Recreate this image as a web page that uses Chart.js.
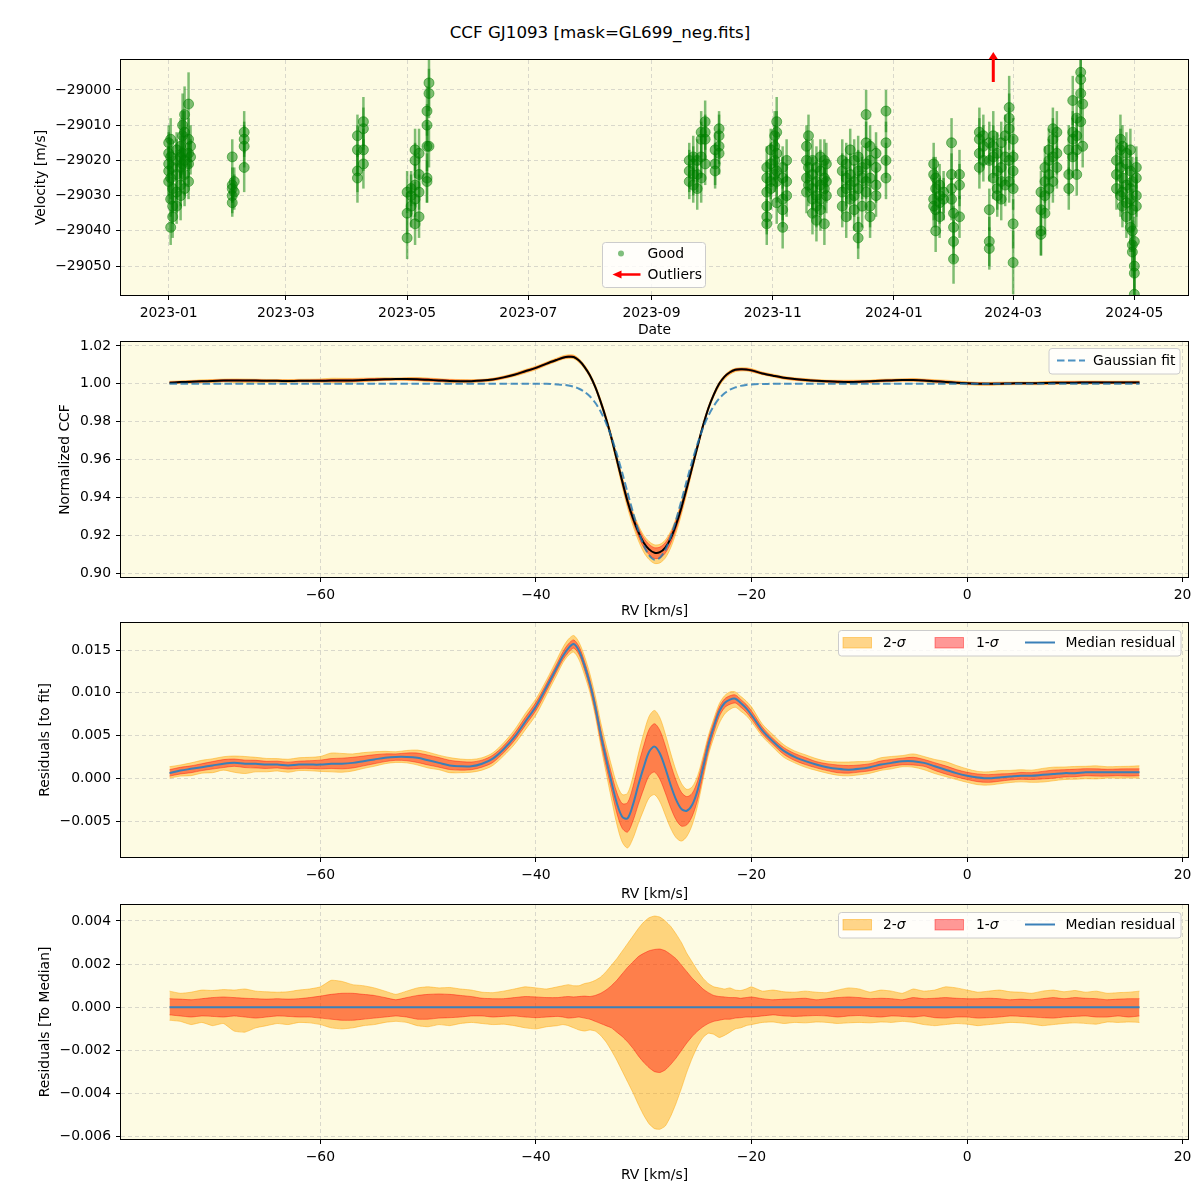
<!DOCTYPE html>
<html>
<head>
<meta charset="utf-8">
<script src="https://cdn.jsdelivr.net/npm/chart.js@4.4.1/dist/chart.umd.min.js"></script>
<style>
  body { margin: 0; background: #fff; width: 1200px; height: 1200px; position: relative; overflow: hidden; font-family: "DejaVu Sans", sans-serif; }
  canvas { position: absolute; left: 0; }
  #title { position: absolute; top: 22px; left: 0; width: 1200px; text-align: center; font-size: 16.7px; color: #000; }
</style>
</head>
<body>
<div id="title">CCF GJ1093 [mask=GL699_neg.fits]</div>
<canvas id="c1" width="1200" height="340" style="top:0px"></canvas>
<canvas id="c2" width="1200" height="290" style="top:330px"></canvas>
<canvas id="c3" width="1200" height="295" style="top:610px"></canvas>
<canvas id="c4" width="1200" height="310" style="top:890px"></canvas>
<script>
// ---- RV time series (top panel) ----
const nights = [
  '2023-01-01','2023-01-02','2023-01-03','2023-01-05','2023-01-07','2023-01-08','2023-01-09','2023-01-11','2023-01-12',
  '2023-02-02','2023-02-03','2023-02-08',
  '2023-04-06','2023-04-09',
  '2023-05-01','2023-05-03','2023-05-05','2023-05-07','2023-05-11','2023-05-12',
  '2023-09-20','2023-09-22','2023-09-24','2023-09-26','2023-09-28','2023-10-03','2023-10-05',
  '2023-10-29','2023-10-31','2023-11-02','2023-11-03','2023-11-06','2023-11-08',
  '2023-11-18','2023-11-19','2023-11-21','2023-11-23','2023-11-25','2023-11-27','2023-11-28',
  '2023-12-06','2023-12-08','2023-12-10','2023-12-12','2023-12-14','2023-12-16','2023-12-18','2023-12-20','2023-12-23','2023-12-28',
  '2024-01-21','2024-01-22','2024-01-24','2024-01-26','2024-01-30','2024-01-31','2024-02-03',
  '2024-02-13','2024-02-15','2024-02-18','2024-02-20','2024-02-22','2024-02-24','2024-02-26','2024-02-28','2024-03-01',
  '2024-03-15','2024-03-17','2024-03-19','2024-03-21','2024-03-23',
  '2024-03-29','2024-03-31','2024-04-02','2024-04-04','2024-04-05',
  '2024-04-22','2024-04-24','2024-04-25','2024-04-27','2024-04-29','2024-04-30','2024-05-01','2024-05-02'
];
const nightRv = [
  [-29015,-29018,-29021,-29023,-29026],[-29014,-29019,-29025,-29031,-29039],[-29022,-29028,-29033,-29036],
  [-29017,-29020,-29024,-29029,-29033],[-29016,-29019,-29022,-29027,-29030],[-29010,-29013,-29018,-29021],
  [-29007,-29012,-29020,-29024,-29028],[-29004,-29014,-29018,-29021,-29026],[-29016,-29019],
  [-29019,-29027,-29028,-29030,-29032],[-29026,-29029],[-29012,-29014,-29016,-29022],
  [-29013,-29017,-29023,-29025],[-29009,-29011,-29017,-29021],
  [-29029,-29035,-29042],[-29028,-29030,-29033],[-29017,-29020,-29027,-29031,-29038],[-29018,-29024,-29029,-29036],
  [-29006,-29010,-29016,-29025,-29026],[-28998,-29001,-29016],
  [-29020,-29023,-29026],[-29019,-29021,-29024,-29027],[-29020,-29024,-29028],[-29012,-29014,-29019,-29025],
  [-29009,-29012,-29014,-29021],[-29017,-29021,-29023],[-29011,-29013,-29016,-29018],
  [-29022,-29025,-29029,-29033,-29036,-29038],[-29017,-29021,-29026,-29028],[-29013,-29016,-29020,-29024],
  [-29009,-29012,-29018,-29023,-29026,-29032],[-29022,-29025,-29031,-29034,-29039],[-29020,-29026,-29030],
  [-29016,-29020,-29025,-29029],[-29013,-29022,-29027],[-29020,-29024,-29028,-29031,-29035],
  [-29022,-29026,-29030,-29033,-29037],[-29019,-29023,-29027,-29031,-29034],[-29020,-29025,-29028,-29038],[-29021,-29026,-29030],
  [-29020,-29023,-29029,-29033],[-29021,-29025,-29028,-29036],[-29017,-29024,-29027,-29031],[-29020,-29026,-29030,-29034],
  [-29019,-29023,-29028,-29039,-29042],[-29022,-29025,-29033],[-29007,-29015,-29021,-29026,-29029],
  [-29016,-29020,-29025,-29033,-29036],[-29018,-29022,-29027,-29030],[-29006,-29015,-29020,-29025],
  [-29021,-29024,-29031,-29033],[-29025,-29028,-29034,-29040],[-29027,-29030,-29032,-29036],[-29029,-29031],
  [-29015,-29024,-29028,-29031],[-29035,-29039,-29043,-29048],[-29024,-29027,-29036],
  [-29012,-29014,-29018,-29022],[-29013,-29016,-29020],[-29015,-29020,-29034,-29043,-29045],[-29013,-29016,-29019,-29025],
  [-29018,-29023,-29028,-29030],[-29015,-29022,-29026,-29031],[-29013,-29019,-29027],[-29005,-29008,-29011,-29020,-29026],
  [-29014,-29019,-29023,-29028,-29038,-29049],
  [-29029,-29034,-29040,-29041],[-29022,-29026,-29030,-29035],[-29017,-29020,-29024,-29028],[-29011,-29014,-29019,-29026],[-29012,-29018,-29022],
  [-29017,-29024,-29028],[-29003,-29012,-29014,-29019],[-29008,-29013,-29017,-29024],[-28995,-28997,-29001,-29009],[-29004,-29016],
  [-29020,-29024,-29028],[-29014,-29017,-29022,-29030],[-29016,-29025,-29029,-29033],[-29018,-29021,-29027,-29032,-29036],
  [-29017,-29023,-29028,-29031,-29039],[-29026,-29034,-29040,-29044,-29046],[-29043,-29050,-29052,-29058],[-29022,-29025,-29030,-29033]
];
const nightErr = [
  [5,6,5,7,6],[6,5,6,5,5],[6,7,5,6],[5,6,7,6,5],[8,6,5,6,7],[9,7,6,5],[8,6,5,6,5],[9,6,5,6,5],[6,5],
  [5,5,4,5,4],[4,5],[6,5,6,7],
  [6,7,6,7],[7,6,6,7],
  [6,6,6],[5,6,6],[6,5,6,5,6],[7,6,5,6],[7,6,7,7,6],[8,7,6],
  [5,6,5],[6,5,6,5],[6,5,6],[6,5,6,7],[6,5,6,6],[5,6,5],[5,6,5,6],
  [6,5,6,6,5,6],[6,6,5,6],[7,6,6,5],[7,6,6,5,6,6],[6,6,6,5,6],[6,5,6],
  [6,6,5,6],[6,5,6],[6,5,6,5,6],[6,6,5,6,6],[5,6,6,5,6],[6,5,6,6],[6,6,5],
  [6,5,6,6],[6,6,5,6],[6,6,5,6],[6,5,6,6],[6,6,5,6,6],[6,6,6],[7,6,6,5,6],[6,6,5,6,6],[6,6,5,6],[6,6,5,6],
  [6,5,6,6],[6,6,5,6],[6,5,6,6],[6,6],[7,6,6,6],[6,6,6,7],[7,6,6],
  [7,6,6,6],[6,6,6],[6,6,6,7,6],[7,6,6,6],[6,6,6,6],[6,6,6,6],[6,6,6],[9,7,6,6,6],[6,6,6,6,7,9],
  [6,6,7,6],[6,6,6,6],[6,6,6,6],[6,6,6,6],[6,6,6],
  [7,6,6],[7,6,6,6],[6,6,6,6],[7,7,6,6],[6,6],
  [6,6,6],[7,6,6,6],[6,6,6,6],[6,6,6,6,6],[6,6,6,6,7],[7,6,6,7,7],[7,7,7,8],[6,6,6,6]
];
const outlierDates = ['2024-02-20'];
const dateTicks = ['2023-01-01','2023-03-01','2023-05-01','2023-07-01','2023-09-01','2023-11-01','2024-01-01','2024-03-01','2024-05-01'];
const velTicks = [-29050, -29040, -29030, -29020, -29010, -29000];

// ---- CCF profile (RV grid in km/s) ----
const rvGrid = [-74,-73,-72,-71,-70,-69,-68,-67,-66,-65,-64,-63,-62,-61,-60,-59,-58,-57,-56,-55,-54,-53,-52,-51,-50,-49,-48,-47,-46,-45,-44,-43,-42,-41,-40,-39,
  -38,-37.5,-37,-36.5,-36,-35.5,-35,-34.5,-34,-33.5,-33,-32.5,-32,-31.5,-31,-30.5,-30,-29.5,-29,-28.5,-28,-27.5,-27,-26.5,-26,-25.5,-25,-24.5,-24,-23.5,-23,-22.5,-22,-21.5,-21,-20.5,-20,
  -19,-18,-17,-16,-15,-14,-13,-12,-11,-10,-9,-8,-7,-6,-5,-4,-3,-2,-1,0,1,2,3,4,5,6,7,8,9,10,11,12,13,14,15,16];
const gaussFit = [1,1,1,1,1,1,1,1,1,1,1,1,1,1,1,1,1,1,1,1,1,1,1,1,1,1,1,1,1,1,1,1,1,1,1,1,
  0.9997,0.9995,0.9991,0.9985,0.9974,0.9958,0.9934,0.9900,0.9854,0.9794,0.9719,0.9630,0.9531,0.9425,0.9321,0.9225,0.9147,0.9094,0.9070,0.9081,0.9122,0.9191,0.9281,0.9383,0.9489,0.9592,0.9685,0.9766,0.9832,0.9883,0.9922,0.9950,0.9969,0.9981,0.9989,0.9994,0.9997,
  0.9999,1,1,1,1,1,1,1,1,1,1,1,1,1,1,1,1,1,1,1,1,1,1,1,1,1,1,1,1,1,1,1,1,1,1,1];
const medianResidual = [0.0006,0.0009,0.0011,0.0013,0.0015,0.0017,0.0018,0.0017,0.0017,0.0016,0.0016,0.0015,0.0016,0.0016,0.0016,0.0017,0.0017,0.0018,0.0020,0.0022,0.0024,0.0025,0.0025,0.0024,0.0021,0.0018,0.0015,0.0014,0.0014,0.0017,0.0023,0.0034,0.0048,0.0066,0.0084,0.0107,
  0.0131,0.0143,0.0152,0.0157,0.0149,0.0132,0.0111,0.0084,0.0052,0.0023,-0.0004,-0.0029,-0.0045,-0.0047,-0.0031,-0.0008,0.0013,0.0031,0.0037,0.0029,0.0012,-0.0008,-0.0025,-0.0036,-0.0038,-0.0031,-0.0014,0.0012,0.0039,0.0060,0.0078,0.0088,0.0092,0.0093,0.0088,0.0082,0.0074,
  0.0056,0.0043,0.0032,0.0025,0.0020,0.0016,0.0013,0.0011,0.0010,0.0011,0.0013,0.0016,0.0018,0.0020,0.0020,0.0018,0.0014,0.0010,0.0006,0.0003,0.0001,0.0000,0.0001,0.0002,0.0003,0.0003,0.0004,0.0005,0.0006,0.0006,0.0007,0.0007,0.0007,0.0007,0.0007,0.0007];
// spread of the individual residuals around the median
const sig2Hi = [0.00075,0.00065,0.00070,0.00080,0.00078,0.00082,0.00080,0.00085,0.00075,0.00072,0.00070,0.00072,0.00080,0.00085,0.00095,0.00125,0.00120,0.00105,0.00100,0.00090,0.00075,0.00060,0.00075,0.00090,0.00095,0.00090,0.00092,0.00085,0.00080,0.00070,0.00068,0.00075,0.00085,0.00095,0.00090,0.00085,
  0.00095,0.00100,0.00105,0.00100,0.00100,0.00110,0.00115,0.00125,0.00140,0.00165,0.00195,0.00225,0.00260,0.00295,0.00330,0.00365,0.00395,0.00415,0.00423,0.00418,0.00400,0.00375,0.00340,0.00300,0.00250,0.00210,0.00170,0.00135,0.00110,0.00095,0.00090,0.00085,0.00090,0.00080,0.00078,0.00085,0.00095,
  0.00075,0.00080,0.00072,0.00070,0.00075,0.00070,0.00068,0.00080,0.00090,0.00085,0.00070,0.00080,0.00075,0.00065,0.00085,0.00075,0.00080,0.00095,0.00090,0.00080,0.00070,0.00075,0.00080,0.00072,0.00070,0.00065,0.00075,0.00080,0.00072,0.00078,0.00070,0.00075,0.00065,0.00068,0.00070,0.00075];
const sig1Hi = [0.00040,0.00038,0.00035,0.00040,0.00045,0.00048,0.00045,0.00042,0.00040,0.00038,0.00040,0.00038,0.00040,0.00045,0.00052,0.00060,0.00065,0.00065,0.00060,0.00055,0.00045,0.00035,0.00045,0.00055,0.00060,0.00062,0.00060,0.00055,0.00050,0.00042,0.00040,0.00040,0.00045,0.00050,0.00048,0.00045,
  0.00045,0.00048,0.00050,0.00048,0.00050,0.00052,0.00050,0.00055,0.00065,0.00080,0.00100,0.00125,0.00155,0.00185,0.00210,0.00235,0.00250,0.00262,0.00268,0.00270,0.00262,0.00245,0.00225,0.00195,0.00165,0.00135,0.00110,0.00085,0.00068,0.00055,0.00050,0.00048,0.00045,0.00045,0.00042,0.00045,0.00048,
  0.00040,0.00035,0.00038,0.00040,0.00042,0.00035,0.00040,0.00045,0.00048,0.00045,0.00040,0.00042,0.00040,0.00035,0.00045,0.00040,0.00042,0.00045,0.00042,0.00040,0.00040,0.00042,0.00040,0.00035,0.00038,0.00035,0.00040,0.00045,0.00040,0.00045,0.00042,0.00040,0.00035,0.00038,0.00040,0.00040];
const sig1Lo = [-0.00035,-0.00040,-0.00045,-0.00040,-0.00042,-0.00045,-0.00040,-0.00045,-0.00050,-0.00045,-0.00040,-0.00042,-0.00045,-0.00045,-0.00050,-0.00055,-0.00060,-0.00060,-0.00055,-0.00050,-0.00045,-0.00040,-0.00045,-0.00055,-0.00055,-0.00050,-0.00048,-0.00045,-0.00040,-0.00040,-0.00045,-0.00042,-0.00040,-0.00045,-0.00048,-0.00045,
  -0.00042,-0.00045,-0.00050,-0.00048,-0.00045,-0.00050,-0.00055,-0.00065,-0.00075,-0.00085,-0.00095,-0.00115,-0.00135,-0.00160,-0.00190,-0.00225,-0.00255,-0.00280,-0.00298,-0.00302,-0.00290,-0.00265,-0.00235,-0.00200,-0.00165,-0.00135,-0.00110,-0.00090,-0.00075,-0.00065,-0.00060,-0.00055,-0.00055,-0.00050,-0.00048,-0.00045,-0.00045,
  -0.00040,-0.00035,-0.00040,-0.00042,-0.00040,-0.00038,-0.00040,-0.00045,-0.00040,-0.00038,-0.00042,-0.00045,-0.00040,-0.00042,-0.00045,-0.00040,-0.00048,-0.00050,-0.00045,-0.00045,-0.00050,-0.00048,-0.00045,-0.00040,-0.00042,-0.00045,-0.00048,-0.00050,-0.00045,-0.00042,-0.00040,-0.00045,-0.00045,-0.00040,-0.00045,-0.00040];
const sig2Lo = [-0.00060,-0.00065,-0.00080,-0.00070,-0.00085,-0.00075,-0.00110,-0.00115,-0.00095,-0.00085,-0.00075,-0.00080,-0.00070,-0.00072,-0.00080,-0.00095,-0.00100,-0.00095,-0.00085,-0.00080,-0.00070,-0.00065,-0.00070,-0.00085,-0.00090,-0.00080,-0.00085,-0.00075,-0.00070,-0.00075,-0.00080,-0.00078,-0.00085,-0.00095,-0.00100,-0.00090,
  -0.00085,-0.00080,-0.00085,-0.00095,-0.00105,-0.00110,-0.00105,-0.00110,-0.00130,-0.00160,-0.00200,-0.00245,-0.00295,-0.00345,-0.00395,-0.00450,-0.00500,-0.00540,-0.00562,-0.00565,-0.00550,-0.00505,-0.00445,-0.00375,-0.00300,-0.00235,-0.00180,-0.00140,-0.00120,-0.00125,-0.00140,-0.00130,-0.00115,-0.00100,-0.00095,-0.00085,-0.00080,
  -0.00070,-0.00068,-0.00075,-0.00070,-0.00072,-0.00068,-0.00070,-0.00075,-0.00072,-0.00070,-0.00072,-0.00068,-0.00070,-0.00065,-0.00070,-0.00080,-0.00085,-0.00080,-0.00075,-0.00078,-0.00085,-0.00080,-0.00075,-0.00070,-0.00072,-0.00078,-0.00085,-0.00080,-0.00075,-0.00072,-0.00075,-0.00078,-0.00068,-0.00070,-0.00068,-0.00070];
const medToMedRv = [-74, 16];
const medToMedVal = [0, 0];
const rvTicks = [-60, -40, -20, 0, 20];
const ccfTicks = [0.90, 0.92, 0.94, 0.96, 0.98, 1.00, 1.02];
const fitResTicks = [-0.005, 0, 0.005, 0.010, 0.015];
const medResTicks = [-0.006, -0.004, -0.002, 0, 0.002, 0.004];

// ---- style ----
const FAM = '"DejaVu Sans", "Liberation Sans", sans-serif';
const FS = 13.9;
const FONT = { family: FAM, size: FS };
const BG = '#fdfbe3';
const GRID = 'rgba(176,176,176,0.6)';
const ORANGE = 'rgba(255,165,0,0.45)';
const RED = 'rgba(255,0,0,0.4)';
const BLUE = '#3a80b8';
const GREEN = 'rgba(0,128,0,0.5)';
const minus = s => String(s).replace('-', '\u2212');
const day = d => Date.parse(d);

const ccf = gaussFit.map((g, i) => g + medianResidual[i]);
const pts = (xs, ys) => xs.map((x, i) => ({ x, y: ys[i] }));
const around = (base, off) => base.map((b, i) => b + off[i]);

function xAxis(min, max, ticks, fmt, title, titleBottom, height) {
  return {
    type: 'linear', min, max,
    afterBuildTicks: s => { s.ticks = ticks.map(v => ({ value: v })); },
    afterFit: s => { s.height = height; s.paddingLeft = 0; s.paddingRight = 0; },
    ticks: { font: FONT, color: '#000', padding: 5, maxRotation: 0, autoSkip: false, callback: fmt },
    grid: { color: GRID, lineWidth: 0.8, tickColor: '#000', tickLength: 5, tickWidth: 1, tickBorderDash: [] },
    border: { display: false, dash: [4, 3] },
    title: { display: true, text: title, color: '#000', font: FONT, padding: { top: 0, bottom: titleBottom } }
  };
}
function yAxis(min, max, ticks, fmt, title, titleTop) {
  return {
    type: 'linear', min, max,
    afterBuildTicks: s => { s.ticks = ticks.map(v => ({ value: v })); },
    afterFit: s => { s.width = 121; s.paddingTop = 0; s.paddingBottom = 0; },
    ticks: { font: FONT, color: '#000', padding: 5, autoSkip: false, callback: fmt },
    grid: { color: GRID, lineWidth: 0.8, tickColor: '#000', tickLength: 5, tickWidth: 1, tickBorderDash: [] },
    border: { display: false, dash: [4, 3] },
    title: { display: true, text: title, color: '#000', font: FONT, padding: { top: titleTop, bottom: 0 } }
  };
}

const areaPlugin = {
  id: 'area',
  beforeDraw(chart) {
    const { ctx, chartArea: a } = chart;
    ctx.save();
    ctx.fillStyle = BG;
    ctx.fillRect(a.left, a.top, a.width, a.height);
    ctx.restore();
  },
  afterDatasetsDraw(chart) {
    const { ctx, chartArea: a } = chart;
    ctx.save();
    ctx.strokeStyle = '#000';
    ctx.lineWidth = 1;
    ctx.strokeRect(Math.round(a.left) - 0.5, Math.round(a.top) - 0.5, Math.round(a.width) + 1, Math.round(a.height) + 1);
    ctx.restore();
  }
};

function legendBox(ctx, x, y, w, h) {
  ctx.save();
  ctx.fillStyle = 'rgba(255,255,255,0.8)';
  ctx.strokeStyle = '#cccccc';
  ctx.lineWidth = 1;
  ctx.beginPath();
  if (ctx.roundRect) ctx.roundRect(x, y, w, h, 3); else ctx.rect(x, y, w, h);
  ctx.fill();
  ctx.stroke();
  ctx.restore();
}
function sigmaText(ctx, prefix, x, y) {
  ctx.font = FS + 'px ' + FAM;
  ctx.fillText(prefix, x, y);
  const w = ctx.measureText(prefix).width;
  ctx.font = 'italic ' + FS + 'px ' + FAM;
  ctx.fillText('\u03c3', x + w, y);
}

// band legend used by the two residual panels
const bandLegend = {
  id: 'bandLegend',
  afterDraw(chart) {
    const { ctx, chartArea: a } = chart;
    const r = a.right, t = a.top;
    legendBox(ctx, r - 349.5, t + 7.5, 342.5, 25.5);
    ctx.save();
    ctx.fillStyle = ORANGE; ctx.fillRect(r - 345, t + 14.5, 28.5, 10.5);
    ctx.strokeStyle = ORANGE; ctx.lineWidth = 1; ctx.strokeRect(r - 345, t + 14.5, 28.5, 10.5);
    ctx.fillStyle = RED; ctx.fillRect(r - 253, t + 14.5, 28.5, 10.5);
    ctx.strokeStyle = RED; ctx.strokeRect(r - 253, t + 14.5, 28.5, 10.5);
    ctx.strokeStyle = BLUE; ctx.lineWidth = 2;
    ctx.beginPath(); ctx.moveTo(r - 163, t + 19.5); ctx.lineTo(r - 133, t + 19.5); ctx.stroke();
    ctx.fillStyle = '#000'; ctx.textBaseline = 'middle'; ctx.textAlign = 'left';
    sigmaText(ctx, '2-', r - 305, t + 20);
    sigmaText(ctx, '1-', r - 212, t + 20);
    ctx.font = FS + 'px ' + FAM;
    ctx.fillText('Median residual', r - 122.5, t + 20);
    ctx.restore();
  }
};

// ---- panel 1: velocities ----
const obsX = [], obsY = [], obsE = [];
nights.forEach((d, i) => nightRv[i].forEach((v, j) => { obsX.push(day(d)); obsY.push(v); obsE.push(nightErr[i][j]); }));

const errorBars = {
  id: 'errorBars',
  beforeDatasetsDraw(chart) {
    const { ctx, chartArea: a, scales: { x, y } } = chart;
    ctx.save();
    ctx.beginPath(); ctx.rect(a.left, a.top, a.width, a.height); ctx.clip();
    ctx.strokeStyle = GREEN; ctx.lineWidth = 2.5;
    obsX.forEach((t, i) => {
      const px = x.getPixelForValue(t);
      ctx.beginPath();
      ctx.moveTo(px, y.getPixelForValue(obsY[i] - obsE[i]));
      ctx.lineTo(px, y.getPixelForValue(obsY[i] + obsE[i]));
      ctx.stroke();
    });
    ctx.restore();
  }
};
const outlierArrows = {
  id: 'outlierArrows',
  afterDatasetsDraw(chart) {
    const { ctx, chartArea: a, scales: { x } } = chart;
    ctx.save();
    ctx.strokeStyle = 'red'; ctx.fillStyle = 'red'; ctx.lineWidth = 3;
    outlierDates.forEach(d => {
      const px = x.getPixelForValue(day(d));
      ctx.beginPath(); ctx.moveTo(px, a.top + 22); ctx.lineTo(px, a.top - 2); ctx.stroke();
      ctx.beginPath(); ctx.moveTo(px - 4.5, a.top - 1); ctx.lineTo(px, a.top - 8); ctx.lineTo(px + 4.5, a.top - 1); ctx.closePath(); ctx.fill();
    });
    ctx.restore();
  }
};
const velLegend = {
  id: 'velLegend',
  afterDraw(chart) {
    const { ctx } = chart;
    legendBox(ctx, 602.5, 242.5, 103, 45);
    ctx.save();
    ctx.fillStyle = GREEN;
    ctx.beginPath(); ctx.arc(621, 253.5, 3, 0, Math.PI * 2); ctx.fill();
    ctx.strokeStyle = 'red'; ctx.fillStyle = 'red'; ctx.lineWidth = 2.5;
    ctx.beginPath(); ctx.moveTo(640.5, 274.5); ctx.lineTo(619, 274.5); ctx.stroke();
    ctx.beginPath(); ctx.moveTo(621.5, 270.5); ctx.lineTo(612.5, 274.5); ctx.lineTo(621.5, 278.5); ctx.closePath(); ctx.fill();
    ctx.fillStyle = '#000'; ctx.font = FS + 'px ' + FAM; ctx.textBaseline = 'middle';
    ctx.fillText('Good', 647.5, 254);
    ctx.fillText('Outliers', 647.5, 275);
    ctx.restore();
  }
};

new Chart(document.getElementById('c1'), {
  type: 'scatter',
  data: { datasets: [{
    data: pts(obsX, obsY), pointRadius: 5, pointBackgroundColor: GREEN, pointBorderColor: GREEN, pointBorderWidth: 1, clip: 0
  }] },
  options: {
    responsive: false, animation: false,
    layout: { padding: { left: 0, right: 12, top: 60, bottom: 0 } },
    plugins: { legend: { display: false }, tooltip: { enabled: false } },
    scales: {
      x: xAxis(day('2022-12-08'), day('2024-05-28'), dateTicks.map(day), v => new Date(v).toISOString().slice(0, 7), 'Date', 1.7, 45),
      y: yAxis(-29058.2, -28991.5, velTicks, v => minus(v), 'Velocity [m/s]', 32.7)
    }
  },
  plugins: [areaPlugin, errorBars, outlierArrows, velLegend]
});

// ---- panel 2: CCF and Gaussian fit ----
const lineDefaults = { pointRadius: 0, tension: 0.3 };
const gaussLegend = {
  id: 'gaussLegend',
  afterDraw(chart) {
    const { ctx, chartArea: a } = chart;
    const r = a.right, t = a.top;
    legendBox(ctx, r - 139, t + 6.5, 131, 25.5);
    ctx.save();
    ctx.strokeStyle = 'rgba(31,119,180,0.8)'; ctx.lineWidth = 2; ctx.setLineDash([7.5, 3.5]);
    ctx.beginPath(); ctx.moveTo(r - 131, t + 18.5); ctx.lineTo(r - 103, t + 18.5); ctx.stroke();
    ctx.setLineDash([]);
    ctx.fillStyle = '#000'; ctx.font = FS + 'px ' + FAM; ctx.textBaseline = 'middle';
    ctx.fillText('Gaussian fit', r - 95, t + 19);
    ctx.restore();
  }
};
new Chart(document.getElementById('c2'), {
  type: 'line',
  data: { datasets: [
    { ...lineDefaults, data: pts(rvGrid, gaussFit), borderColor: 'rgba(31,119,180,0.8)', borderWidth: 2, borderDash: [7.5, 3.5], fill: false },
    { ...lineDefaults, data: pts(rvGrid, ccf), borderColor: '#000', borderWidth: 2, fill: false },
    { ...lineDefaults, data: pts(rvGrid, around(ccf, sig1Hi)), borderColor: RED, borderWidth: 1, backgroundColor: RED, fill: '+1' },
    { ...lineDefaults, data: pts(rvGrid, around(ccf, sig1Lo)), borderColor: RED, borderWidth: 1, fill: false },
    { ...lineDefaults, data: pts(rvGrid, around(ccf, sig2Hi)), borderColor: ORANGE, borderWidth: 1, backgroundColor: ORANGE, fill: '+1' },
    { ...lineDefaults, data: pts(rvGrid, around(ccf, sig2Lo)), borderColor: ORANGE, borderWidth: 1, fill: false }
  ] },
  options: {
    responsive: false, animation: false,
    layout: { padding: { left: 0, right: 12, top: 12, bottom: 0 } },
    plugins: { legend: { display: false }, tooltip: { enabled: false } },
    scales: {
      x: xAxis(-78.5, 20.5, rvTicks, v => minus(v), 'RV [km/s]', 0, 43),
      y: yAxis(0.8979, 1.0221, ccfTicks, v => v.toFixed(2), 'Normalized CCF', 56.7)
    }
  },
  plugins: [areaPlugin, gaussLegend]
});

// ---- panel 3: residuals to the fit ----
new Chart(document.getElementById('c3'), {
  type: 'line',
  data: { datasets: [
    { ...lineDefaults, data: pts(rvGrid, medianResidual), borderColor: BLUE, borderWidth: 2, fill: false },
    { ...lineDefaults, data: pts(rvGrid, around(medianResidual, sig1Hi)), borderColor: RED, borderWidth: 1, backgroundColor: RED, fill: '+1' },
    { ...lineDefaults, data: pts(rvGrid, around(medianResidual, sig1Lo)), borderColor: RED, borderWidth: 1, fill: false },
    { ...lineDefaults, data: pts(rvGrid, around(medianResidual, sig2Hi)), borderColor: ORANGE, borderWidth: 1, backgroundColor: ORANGE, fill: '+1' },
    { ...lineDefaults, data: pts(rvGrid, around(medianResidual, sig2Lo)), borderColor: ORANGE, borderWidth: 1, fill: false }
  ] },
  options: {
    responsive: false, animation: false,
    layout: { padding: { left: 0, right: 12, top: 13, bottom: 0 } },
    plugins: { legend: { display: false }, tooltip: { enabled: false } },
    scales: {
      x: xAxis(-78.5, 20.5, rvTicks, v => minus(v), 'RV [km/s]', 2.7, 48),
      y: yAxis(-0.00921, 0.01816, fitResTicks, v => minus(v.toFixed(3)), 'Residuals [to fit]', 36.7)
    }
  },
  plugins: [areaPlugin, bandLegend]
});

// ---- panel 4: residuals to the median ----
new Chart(document.getElementById('c4'), {
  type: 'line',
  data: { datasets: [
    { ...lineDefaults, data: pts(medToMedRv, medToMedVal), borderColor: BLUE, borderWidth: 2, fill: false },
    { ...lineDefaults, tension: 0.15, data: pts(rvGrid, sig1Hi), borderColor: RED, borderWidth: 1, backgroundColor: RED, fill: '+1' },
    { ...lineDefaults, tension: 0.15, data: pts(rvGrid, sig1Lo), borderColor: RED, borderWidth: 1, fill: false },
    { ...lineDefaults, tension: 0.15, data: pts(rvGrid, sig2Hi), borderColor: ORANGE, borderWidth: 1, backgroundColor: ORANGE, fill: '+1' },
    { ...lineDefaults, tension: 0.15, data: pts(rvGrid, sig2Lo), borderColor: ORANGE, borderWidth: 1, fill: false }
  ] },
  options: {
    responsive: false, animation: false,
    layout: { padding: { left: 0, right: 12, top: 15, bottom: 0 } },
    plugins: { legend: { display: false }, tooltip: { enabled: false } },
    scales: {
      x: xAxis(-78.5, 20.5, rvTicks, v => minus(v), 'RV [km/s]', 16.7, 61),
      y: yAxis(-0.0061, 0.00474, medResTicks, v => minus(v.toFixed(3)), 'Residuals [To Median]', 36.7)
    }
  },
  plugins: [areaPlugin, bandLegend]
});
</script>
</body>
</html>
